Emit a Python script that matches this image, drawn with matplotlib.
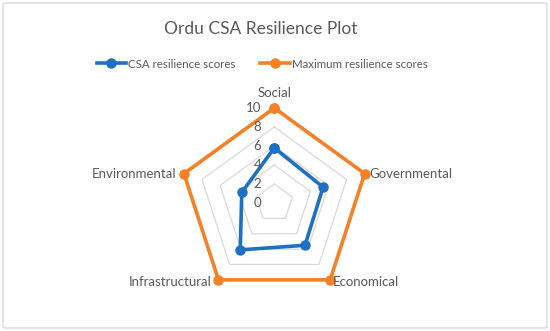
import numpy as np
import matplotlib
matplotlib.use("Agg")
import matplotlib.pyplot as plt
from matplotlib.patches import FancyBboxPatch
from matplotlib.lines import Line2D

categories = ["Social", "Governmental", "Economical", "Infrastructural", "Environmental"]
csa_scores = [5.8, 5.4, 5.5, 6.1, 3.6]
max_scores = [10, 10, 10, 10, 10]
tick_values = [0, 2, 4, 6, 8, 10]
series_names = ["CSA resilience scores", "Maximum resilience scores"]

plt.rcParams["font.family"] = ["Lato", "DejaVu Sans"]

W, H = 550, 331
fig = plt.figure(figsize=(W / 100, H / 100), dpi=100)
fig.patch.set_facecolor("white")

# chart-area border
fig.patches.append(FancyBboxPatch((3 / W, 3 / H), 1 - 6 / W, 1 - 6 / H,
                                  boxstyle="round,pad=0,rounding_size=0.005",
                                  transform=fig.transFigure, fill=False,
                                  edgecolor="#d9d9d9", linewidth=1.0))

cx, cy, R = 274.3, 203.0, 95.0
ax = fig.add_axes([(cx - R) / W, (H - cy - R) / H, 2 * R / W, 2 * R / H], projection="polar")
ax.set_theta_offset(np.pi / 2)
ax.set_theta_direction(-1)
ax.set_ylim(0, 10)
ax.spines["polar"].set_visible(False)
ax.grid(False)
ax.set_xticks([])
ax.set_yticks([])
ax.patch.set_alpha(0)

n = len(categories)
angles = np.linspace(0, 2 * np.pi, n, endpoint=False)
closed = np.concatenate([angles, angles[:1]])

# pentagon gridlines
for lv in tick_values[1:]:
    ax.plot(closed, [lv] * (n + 1), color="#d9d9d9", lw=0.9, zorder=1)

gray = "#595959"
blue = "#1f6fc5"
orange = "#f58025"
csa = list(csa_scores) + [csa_scores[0]]
mx = list(max_scores) + [max_scores[0]]
ax.plot(closed, csa, color=blue, lw=2.6, marker="o", ms=6.5, zorder=4, clip_on=False)
ax.plot(closed, mx, color=orange, lw=2.6, marker="o", ms=6.5, zorder=3, clip_on=False)

# radial tick labels
for v in tick_values:
    y = cy - v / 10 * R
    fig.text((cx - 13) / W, 1 - y / H, str(v), ha="right", va="center",
             fontsize=9.5, color=gray)

# category labels
offs = {
    "Social": (0, -9, "center", "bottom"),
    "Governmental": (5, 0, "left", "center"),
    "Economical": (3, 2, "left", "center"),
    "Infrastructural": (-7, 2, "right", "center"),
    "Environmental": (-8, 0, "right", "center"),
}
for ang, cat in zip(angles, categories):
    px = cx + R * np.sin(ang)
    py = cy - R * np.cos(ang)
    dx, dy, ha, va = offs[cat]
    fig.text((px + dx) / W, 1 - (py + dy) / H, cat, ha=ha, va=va,
             fontsize=9.5, color=gray)

fig.text(261 / W, 1 - 29 / H, "Ordu CSA Resilience Plot", ha="center", va="center",
         fontsize=12.5, color=gray)

handles = [Line2D([], [], color=blue, lw=2.6, marker="o", ms=6.5),
           Line2D([], [], color=orange, lw=2.6, marker="o", ms=6.5)]
fig.legend(handles, series_names, loc="center", bbox_to_anchor=(262 / W, 1 - 64 / H),
           ncol=2, frameon=False, fontsize=8.3, labelcolor=gray,
           handlelength=2.6, handletextpad=0.1, columnspacing=2.2)

fig.savefig("out.png", dpi=100)
